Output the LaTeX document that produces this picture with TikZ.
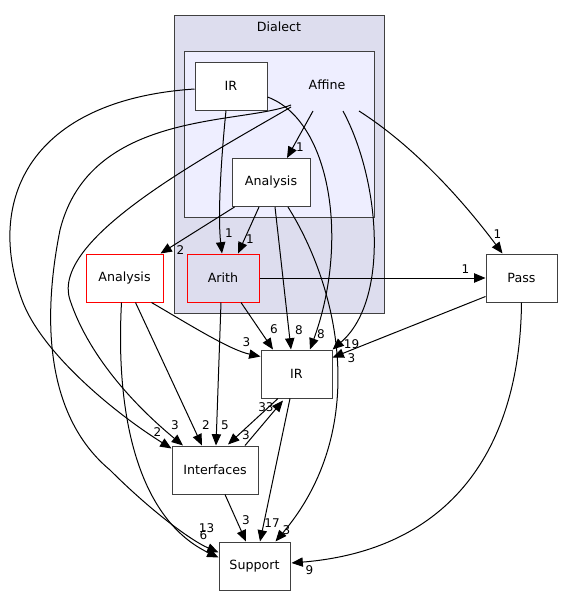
\documentclass[tikz,border=0pt]{standalone}
\usepackage{fontspec}
\setmainfont{DejaVu Sans}
\usepackage{tikz}
\usetikzlibrary{arrows.meta, calc}

\definecolor{dialectfill}{HTML}{DDDDEE}
\definecolor{affinefill}{HTML}{EEEEFF}

\begin{document}
\begin{tikzpicture}[
    x=0.75pt, y=-0.75pt,
    dir/.style={draw=black!75, fill=white, rectangle, minimum height=36pt, minimum width=54pt, line width=0.75pt, inner sep=0pt, font=\fontsize{9.5}{11}\selectfont},
    reddir/.style={dir, draw=red},
    cluster/.style={draw=black!75, line width=0.75pt},
    title/.style={inner sep=0pt, font=\fontsize{9.5}{11}\selectfont},
    lbl/.style={inner sep=0pt, font=\fontsize{9}{10}\selectfont},
    line/.style={draw, line width=0.75pt, -{Triangle[length=8.5pt, width=7pt]}}
]

    \useasboundingbox (0,0) rectangle (564,596);

    % Clusters
    \path[cluster, fill=dialectfill] (174,15) rectangle (384,313);
    \node[title] (dialect) at (279,27) {Dialect};
    \path[cluster, fill=affinefill] (184,51) rectangle (374,217);
    \node[title] (affine) at (327,85) {Affine};

    % Nodes
    \node[dir] (airir) at (231,86) {IR};
    \node[dir, minimum width=58.5pt] (aan) at (271,182.5) {Analysis};
    \node[reddir, fill=dialectfill] (arith) at (223,278) {Arith};
    \node[reddir, minimum width=57.75pt] (analysis) at (124.5,278) {Analysis};
    \node[dir, minimum width=53.25pt] (pass) at (521.5,278) {Pass};
    \node[dir, minimum width=53.25pt] (ir) at (296.5,374) {IR};
    \node[dir, minimum width=64.5pt] (interfaces) at (215,470) {Interfaces};
    \node[dir, minimum width=53.25pt] (support) at (254.5,566) {Support};

    % Lines from Affine
    \draw[line] ($(affine)+(-36,20)$) .. controls (240,125) and (90,110) .. (60,230)
        .. controls (40,330) and (50,420) .. (110,470)
        .. controls (150,510) and (190,540) .. ($(support.north west)+(0,11)$)
        node[lbl, at end, shift={(-12,-24)}] {13};
    \draw[line] ($(affine)+(-36,22)$) .. controls (200,160) and (50,240) .. (70,300)
        .. controls (90,360) and (140,410) .. ($(interfaces.north)+(-32,0)$)
        node[lbl, at end, shift={(-8,-20)}] {3};
    \draw[line] ($(affine)+(-14,26)$) -- ($(aan.north)+(16,0)$)
        node[lbl, at end, shift={(13,-11)}] {1};
    \draw[line] ($(affine)+(16,26)$) .. controls (380,180) and (390,300) .. (ir.north east)
        node[lbl, at end, shift={(19,-5)}] {19};
    \draw[line] ($(affine)+(32,26)$) .. controls (420,150) and (470,210) .. ($(pass.north)+(-19,0)$)
        node[lbl, at end, shift={(-5,-19)}] {1};

    % Lines from Affine/IR
    \draw[line] ($(airir.west)+(0,3)$) .. controls (30,100) and (-15,200) .. (22,300)
        .. controls (40,350) and (110,410) .. ($(interfaces.north west)+(0,3)$)
        node[lbl, at end, shift={(-14,-16)}] {2};
    \draw[line] ($(airir.south)+(-5,0)$) .. controls (220,170) and (218,220) .. ($(arith.north)+(-1,0)$)
        node[lbl, at end, shift={(7,-20)}] {1};
    \draw[line] ($(airir.east)+(0,11)$) .. controls (330,120) and (350,240) .. ($(ir.north)+(13.5,0)$)
        node[lbl, at end, shift={(11,-15)}] {8};

    % Lines from Affine/Analysis
    \draw[line] ($(aan.south west)+(3,0)$) -- ($(analysis.north east)+(-3,0)$)
        node[lbl, at end, shift={(20,-3)}] {2};
    \draw[line] ($(aan.south)+(-12,0)$) -- ($(arith.north)+(15,0)$)
        node[lbl, at end, shift={(12,-14)}] {1};
    \draw[line] ($(aan.south)+(4,0)$) -- ($(ir.north)+(-5.5,0)$)
        node[lbl, at end, shift={(8,-19)}] {8};
    \draw[line] ($(aan.south)+(17,0)$) .. controls (340,290) and (370,430) .. ($(support.north)+(21,0)$)
        node[lbl, at end, shift={(11,-11)}] {3};

    % Lines from Arith
    \draw[line] (arith.east) -- (pass.west)
        node[lbl, at end, shift={(-20,-9)}] {1};
    \draw[line] ($(arith.south)+(18,0)$) -- ($(ir.north)+(-23.5,0)$)
        node[lbl, at end, shift={(1,-20)}] {6};
    \draw[line] ($(arith.south)+(-2,0)$) -- ($(interfaces.north)+(1,0)$)
        node[lbl, at end, shift={(9,-20)}] {5};

    % Lines from Analysis
    \draw[line] ($(analysis.south)+(27,0)$) .. controls (190,325) and (230,350) .. ($(ir.north west)+(0,7)$)
        node[lbl, at end, shift={(-14,-14)}] {3};
    \draw[line] ($(analysis.south)+(11,0)$) -- ($(interfaces.north)+(-13,0)$)
        node[lbl, at end, shift={(4,-20)}] {2};
    \draw[line] ($(analysis.south)+(-3,0)$) .. controls (115,420) and (140,520) .. ($(support.north west)+(0,16)$)
        node[lbl, at end, shift={(-15,-22)}] {6};

    % Lines from Pass
    \draw[line] ($(pass.south west)+(0,-6)$) -- ($(ir.north east)+(0,8)$)
        node[lbl, at end, shift={(19,1)}] {3};
    \draw[line] (pass.south) .. controls (520,450) and (450,550) .. ($(support.east)+(1,-3)$)
        node[lbl, at end, shift={(18,7)}] {9};

    % Lines around IR and Interfaces
    \draw[line] ($(ir.south)+(-18.5,0)$) -- ($(interfaces.north)+(13,-1)$)
        node[lbl, at end, shift={(18,-9)}] {3};
    \draw[line] ($(interfaces.north)+(30,0)$) -- ($(ir.south)+(-13.5,2)$)
        node[lbl, at end, shift={(-17,7)}] {33};
    \draw[line] ($(ir.south)+(-6.5,0)$) -- ($(support.north)+(5.5,0)$)
        node[lbl, at end, shift={(12,-18)}] {17};
    \draw[line] ($(interfaces.south)+(10,0)$) -- ($(support.north)+(-8.5,0)$)
        node[lbl, at end, shift={(0,-21)}] {3};

\end{tikzpicture}
\end{document}
